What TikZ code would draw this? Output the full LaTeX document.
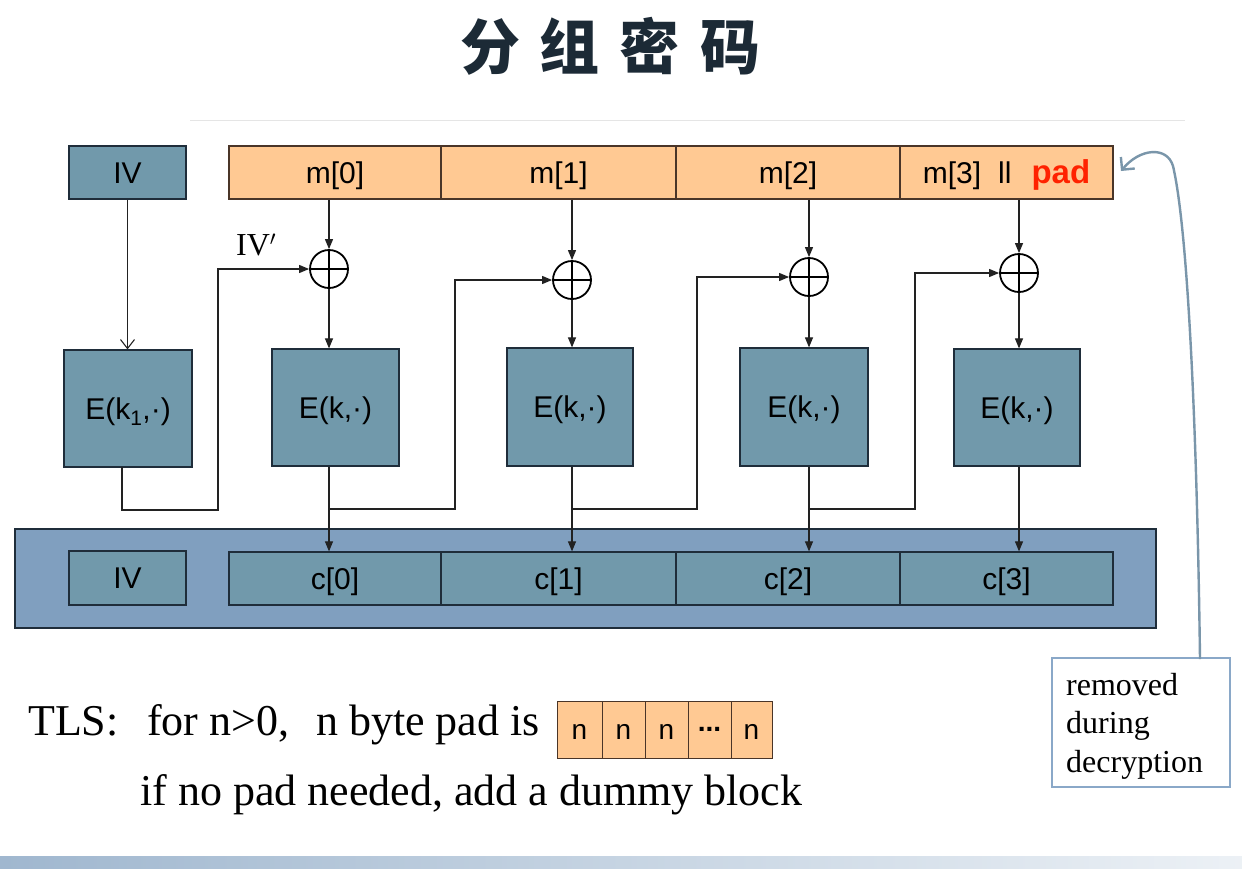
\documentclass[tikz,border=0pt]{standalone}
\usepackage{fontspec}
\setmainfont{Liberation Serif}
\newfontfamily\sansf{Liberation Sans}
\newfontfamily\cjk{Noto Sans CJK SC}
\usetikzlibrary{arrows.meta}
\definecolor{peach}{HTML}{FFC993}
\definecolor{steel}{HTML}{7199AB}
\definecolor{bandblue}{HTML}{809FBF}
\definecolor{boxline}{HTML}{1F2D3A}
\definecolor{brownline}{HTML}{4A3528}
\definecolor{lineblack}{HTML}{222222}
\definecolor{padred}{HTML}{FF2200}
\definecolor{titlecol}{HTML}{1C2A36}
\definecolor{curvecol}{HTML}{7A96AA}
\definecolor{notebox}{HTML}{8AA8C8}
\tikzset{
  bluebox/.style={draw=boxline, fill=steel, line width=1.2pt, inner sep=0pt, text height=21.5pt, text depth=0pt, font=\sansf\fontsize{30}{30}\selectfont},
  peachbox/.style={draw=brownline, fill=peach, line width=1.2pt, inner sep=0pt, text height=21.5pt, text depth=0pt, font=\sansf\fontsize{30}{30}\selectfont},
  ln/.style={draw=lineblack, line width=1.1pt},
  arr/.style={ln, -{Triangle[length=10pt,width=8pt]}},
  openarr/.style={ln, -{Straight Barb[length=9pt,width=14pt]}},
  xorn/.style={circle, draw=black, line width=1.8pt, minimum size=38pt, inner sep=0pt,
    path picture={\draw[line width=1.8pt] (path picture bounding box.north) -- (path picture bounding box.south)
      (path picture bounding box.west) -- (path picture bounding box.east);}},
  padcell/.style={draw=brownline, fill=peach, line width=1pt, inner sep=0pt, minimum height=57pt, text height=20pt, text depth=0pt, font=\sansf\fontsize{28}{28}\selectfont},
  bodytext/.style={inner sep=0pt, font=\fontsize{44}{44}\selectfont, anchor=base west},
}
\begin{document}
\begin{tikzpicture}[x=1pt,y=-1pt]
\useasboundingbox (0,0) rectangle (1242,868);
\fill[white] (0,0) rectangle (1242,868);
% bottom toolbar band
\shade[left color=bandblue!75!white, right color=bandblue!15!white] (0,856) rectangle (1242,868);
% title
\node[inner sep=0pt, text=titlecol, font=\cjk\bfseries\fontsize{60}{60}\selectfont] (title) at (610,46) {分\hspace{20pt}组\hspace{20pt}密\hspace{20pt}码};
\draw[gray!20, line width=1pt] (190,120) -- (1185,120);

% top row
\node[bluebox, minimum width=117pt, minimum height=53pt] (ivtop) at (127.5,172.5) {IV};
\node[peachbox, minimum width=212pt, minimum height=53pt] (m0) at (335,172.5) {m[0]};
\node[peachbox, minimum width=235pt, minimum height=53pt] (m1) at (558.5,172.5) {m[1]};
\node[peachbox, minimum width=224pt, minimum height=53pt] (m2) at (788,172.5) {m[2]};
\node[peachbox, minimum width=213pt, minimum height=53pt] (m3) at (1006.5,172.5) {m[3]\hspace{17pt}ll\hspace{20pt}{\fontsize{33}{33}\selectfont\bfseries\color{padred}pad}};

% xor nodes
\node[xorn] (x0) at (329,269) {};
\node[xorn] (x1) at (572,280) {};
\node[xorn] (x2) at (809,277) {};
\node[xorn] (x3) at (1019,273) {};

\node[inner sep=0pt, anchor=base west, font=\fontsize{32}{32}\selectfont] (ivp) at (236,255) {IV$'$};

% E boxes
\node[bluebox, minimum width=128pt, minimum height=117pt] (e1) at (128,408.5) {E(k\textsubscript{1},·)};
\node[bluebox, minimum width=127pt, minimum height=117pt] (e2) at (335.5,407.5) {E(k,·)};
\node[bluebox, minimum width=126pt, minimum height=118pt] (e3) at (570,407) {E(k,·)};
\node[bluebox, minimum width=128pt, minimum height=118pt] (e4) at (804,407) {E(k,·)};
\node[bluebox, minimum width=126pt, minimum height=117pt] (e5) at (1017,407.5) {E(k,·)};

% bottom band
\node[draw=boxline, fill=bandblue, line width=1.2pt, minimum width=1141pt, minimum height=99pt, inner sep=0pt] (band) at (585.5,578.5) {};
\node[bluebox, minimum width=117pt, minimum height=54pt] (ivbot) at (127.5,578) {IV};
\node[bluebox, minimum width=212pt, minimum height=53pt] (c0) at (335,578.5) {c[0]};
\node[bluebox, minimum width=235pt, minimum height=53pt] (c1) at (558.5,578.5) {c[1]};
\node[bluebox, minimum width=224pt, minimum height=53pt] (c2) at (788,578.5) {c[2]};
\node[bluebox, minimum width=213pt, minimum height=53pt] (c3) at (1006.5,578.5) {c[3]};

% connectors top
\draw[openarr] (ivtop) -- (ivtop |- e1.north);
\draw[arr] (x0 |- m0.south) -- (x0.north);
\draw[arr] (x1 |- m1.south) -- (x1.north);
\draw[arr] (x2 |- m2.south) -- (x2.north);
\draw[arr] (x3 |- m3.south) -- (x3.north);
\draw[arr] (x0.south) -- (x0 |- e2.north);
\draw[arr] (x1.south) -- (x1 |- e3.north);
\draw[arr] (x2.south) -- (x2 |- e4.north);
\draw[arr] (x3.south) -- (x3 |- e5.north);

% down to ciphertext
\draw[arr] (x0 |- e2.south) -- (x0 |- c0.north);
\draw[arr] (x1 |- e3.south) -- (x1 |- c1.north);
\draw[arr] (x2 |- e4.south) -- (x2 |- c2.north);
\draw[arr] (x3 |- e5.south) -- (x3 |- c3.north);

% chaining
\coordinate (row) at (0,509);
\coordinate (e1o) at (122,467);
\coordinate (k0) at (218,510);
\coordinate (k1) at (455,509);
\coordinate (k2) at (697,509);
\coordinate (k3) at (915,509);
\draw[arr] (e1o) |- (k0) |- (x0.west);
\draw[arr] (x0 |- row) -- (k1) |- (x1.west);
\draw[arr] (x1 |- row) -- (k2) |- (x2.west);
\draw[arr] (x2 |- row) -- (k3) |- (x3.west);

% note box and curved arrow
\node[draw=notebox, line width=1.5pt, fill=white, minimum width=178pt, minimum height=129pt, inner sep=0pt] (rbox) at (1141,722.5) {};
\node[inner sep=0pt, anchor=north west, align=left, font=\fontsize{32}{38.5}\selectfont] (rtext) at (1066,673) {removed\\during\\decryption};
\coordinate (cs) at (1200,659);
\coordinate (ce) at (1121,171);
\draw[curvecol, line width=2.4pt, -{Straight Barb[length=9pt,width=18pt]}] (cs) .. controls (1197,430) and (1188,230) .. (1173,166) .. controls (1167,146) and (1140,148) .. (ce);

% TLS text
\node[bodytext] (tls) at (28,735) {TLS:};
\node[bodytext] (for) at (147,735) {for n>0,};
\node[bodytext] (nbyte) at (316,735) {n byte pad is};
\node[padcell, minimum width=45pt] (p1) at (579.5,729.5) {n};
\node[padcell, minimum width=43pt] (p2) at (623.5,729.5) {n};
\node[padcell, minimum width=43pt] (p3) at (666.5,729.5) {n};
\node[padcell, minimum width=43pt] (p4) at (709.5,729.5) {\raisebox{8pt}{\bfseries...}};
\node[padcell, minimum width=41pt] (p5) at (751.5,729.5) {n};
\node[bodytext] (dummy) at (140,805) {if no pad needed, add a dummy block};
\end{tikzpicture}
\end{document}
